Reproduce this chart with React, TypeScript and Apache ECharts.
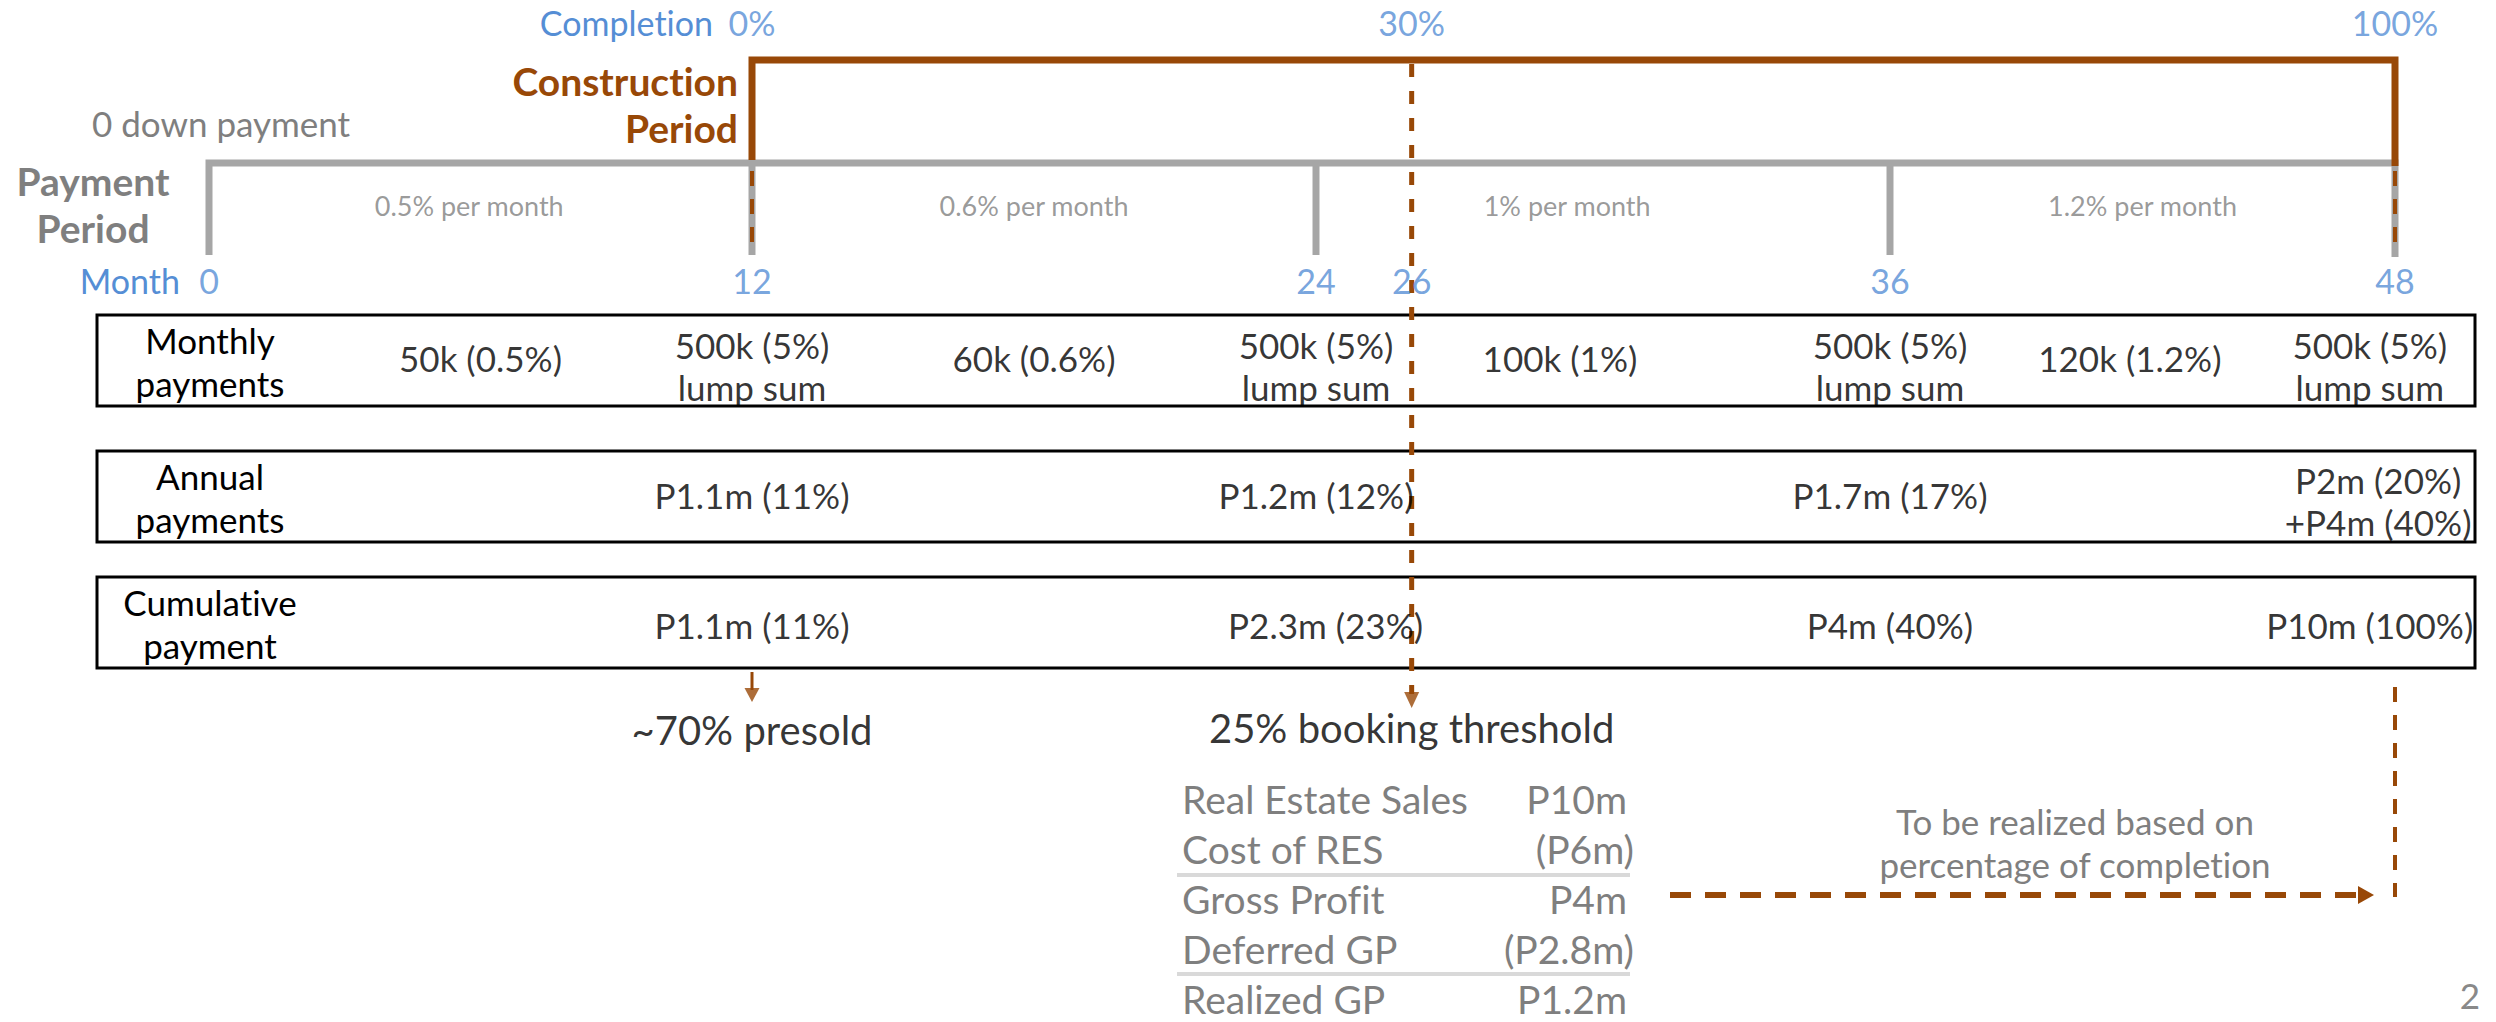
import { useEffect, useRef } from "react";
import * as echarts from "echarts";

// ---- timeline data (months) ----
const segmentBounds: [number, number][] = [
  [0, 12],
  [12, 24],
  [24, 36],
  [36, 48],
];
const paymentTicks = [0, 12, 24, 36, 48];
const monthTicks = [0, 12, 24, 26, 36, 48];
const completionMonths = [12, 26, 48];
const completionLabels = ["0%", "30%", "100%"];
const constructionStart = 12;
const constructionEnd = 48;
const bookingMonth = 26;
const presoldMonth = 12;

const rateLabels = ["0.5% per month", "0.6% per month", "1% per month", "1.2% per month"];
const rateLabelMonths = [5.75, 18, 29.25, 42];

const monthlyLabels = [
  "50k (0.5%)",
  "500k (5%)\nlump sum",
  "60k (0.6%)",
  "500k (5%)\nlump sum",
  "100k (1%)",
  "500k (5%)\nlump sum",
  "120k (1.2%)",
  "500k (5%)\nlump sum",
];
const monthlyMonths = [6, 12, 18, 24, 29.1, 36, 41.7, 47.4];

const annualLabels = ["P1.1m (11%)", "P1.2m (12%)", "P1.7m (17%)", "P2m (20%)\n+P4m (40%)"];
const annualMonths = [12, 24, 36, 47.6];

const cumulativeLabels = ["P1.1m (11%)", "P2.3m (23%)", "P4m (40%)", "P10m (100%)"];
const cumulativeMonths = [12, 24.2, 36, 47.4];

const rowTitles = ["Monthly\npayments", "Annual\npayments", "Cumulative\npayment"];

const incomeItems = ["Real Estate Sales", "Cost of RES", "Gross Profit", "Deferred GP", "Realized GP"];
const incomeValues = ["P10m", "(P6m)", "P4m", "(P2.8m)", "P1.2m"];

// ---- layout & style ----
const W = 2496;
const H = 1022;
const segPx = [209, 752, 1316, 1890, 2395];

const ORANGE = "#984807";
const BLUE = "#558ED5";
const GREY_LINE = "#A6A6A6";
const GREY_TEXT = "#7F7F7F";
const LIGHT_RULE = "#D9D9D9";
const FONT = "Lato, 'Open Sans', sans-serif";

const Y = {
  completion: 22,
  bracketTop: 60,
  timeline: 163,
  tickEnd: 255,
  rate: 205,
  month: 280,
  boxTop: [315, 451, 577],
  boxH: 91,
  rowText: [358, 495, 625],
  rowTwoLineShift: [8, 6, 0],
  presold: 730,
  booking: 728,
};
const BOX_LEFT = 97;
const BOX_RIGHT = 2475;
const ROW_LINE_H = 42;

const gridOf = (m: number) => (m >= 36 ? 3 : m >= 24 ? 2 : m >= 12 ? 1 : 0);

// break a multi-line label into single lines stacked around a centre
function stackLines(text: string, cy: number, lineHeight: number) {
  const parts = text.split("\n");
  const top = cy - ((parts.length - 1) * lineHeight) / 2;
  return parts.map((t, i) => ({ text: t, y: top + i * lineHeight }));
}

function lineSeries(points: number[][], style: any, grid?: number, z = 3) {
  const g = grid ?? gridOf(points[0][0]);
  return {
    type: "line",
    xAxisIndex: g,
    yAxisIndex: g,
    data: points,
    symbol: "none",
    clip: false,
    silent: true,
    z,
    lineStyle: { cap: "butt", join: "miter", ...style },
    emphasis: { disabled: true },
  };
}

// horizontal run split across the four month segments, with optional end legs
function bracketSeries(a: number, b: number, y: number, startLeg: number | null, endLeg: number | null, style: any, z: number) {
  const out: any[] = [];
  segmentBounds.forEach(([s, e], i) => {
    const lo = Math.max(a, s);
    const hi = Math.min(b, e);
    if (hi <= lo) return;
    const pts: number[][] = [
      [lo, y],
      [hi, y],
    ];
    if (lo === a && startLeg !== null) pts.unshift([a, startLeg]);
    if (hi === b && endLeg !== null) pts.push([b, endLeg]);
    out.push(lineSeries(pts, style, i, z));
  });
  return out;
}

function textSeries(month: number, y: number, text: string, style: any) {
  const g = gridOf(month);
  return {
    type: "scatter",
    xAxisIndex: g,
    yAxisIndex: g,
    silent: true,
    clip: false,
    z: 6,
    symbol: "circle",
    symbolSize: 1,
    itemStyle: { color: "rgba(0,0,0,0)" },
    data: [{ value: [month, y], name: text }],
    label: {
      show: true,
      position: "inside",
      formatter: "{b}",
      align: "center",
      verticalAlign: "middle",
      fontFamily: FONT,
      ...style,
    },
    emphasis: { disabled: true },
  };
}

function arrowHead(month: number, y: number, w: number, h: number) {
  const g = gridOf(month);
  return {
    type: "scatter",
    xAxisIndex: g,
    yAxisIndex: g,
    silent: true,
    clip: false,
    z: 5,
    symbol: "triangle",
    symbolRotate: 180,
    symbolSize: [w, h],
    itemStyle: { color: ORANGE },
    data: [[month, y]],
    emphasis: { disabled: true },
  };
}

function gText(x: number, y: number, text: string, style: any) {
  const align = style.align || "left";
  return {
    type: "text",
    x,
    y,
    silent: true,
    z: 10,
    style: {
      text,
      fontFamily: FONT,
      align,
      textAlign: align,
      verticalAlign: "middle",
      textVerticalAlign: "middle",
      ...style,
    },
  };
}

function gTextLines(x: number, cy: number, text: string, lineHeight: number, style: any) {
  return stackLines(text, cy, lineHeight).map((l) => gText(x, l.y, l.text, style));
}

function buildOption() {
  const grid = segmentBounds.map((_, i) => ({
    left: segPx[i],
    width: segPx[i + 1] - segPx[i],
    top: 0,
    height: H,
    containLabel: false,
  }));
  const xAxis = segmentBounds.map(([s, e], i) => ({ type: "value", gridIndex: i, min: s, max: e, show: false }));
  const yAxis = segmentBounds.map((_, i) => ({ type: "value", gridIndex: i, min: 0, max: H, inverse: true, show: false }));

  const series: any[] = [];

  // payment period timeline (grey) and its yearly ticks
  const greyStyle = { color: GREY_LINE, width: 7 };
  series.push(...bracketSeries(0, 48, Y.timeline, Y.tickEnd, Y.tickEnd + 2, greyStyle, 3));
  paymentTicks
    .filter((m) => m !== 0 && m !== 48)
    .forEach((m) => series.push(lineSeries([[m, Y.timeline], [m, Y.tickEnd]], greyStyle, gridOf(m), 3)));

  // construction period bracket (orange)
  series.push(
    ...bracketSeries(constructionStart, constructionEnd, Y.bracketTop, Y.timeline - 3, Y.timeline + 3, { color: ORANGE, width: 7 }, 4)
  );

  // dashed orange markers on the start / end ticks
  [constructionStart, constructionEnd].forEach((m) =>
    series.push(
      lineSeries([[m, Y.timeline], [m, 253]], { color: ORANGE, width: 4, type: [15, 13], dashOffset: 20 }, gridOf(m), 5)
    )
  );

  // 25% booking threshold marker
  series.push(lineSeries([[bookingMonth, 64], [bookingMonth, 694]], { color: ORANGE, width: 5, type: [13, 14] }, gridOf(bookingMonth), 5));
  series.push(arrowHead(bookingMonth, 700, 15, 16));

  // presold marker
  series.push(lineSeries([[presoldMonth, 672], [presoldMonth, 690]], { color: ORANGE, width: 3 }, gridOf(presoldMonth), 5));
  series.push(arrowHead(presoldMonth, 695, 15, 14));

  // realization marker at completion
  series.push(lineSeries([[constructionEnd, 687], [constructionEnd, 897]], { color: ORANGE, width: 4, type: [15, 13] }, gridOf(constructionEnd), 5));

  // completion percentages
  completionMonths.forEach((m, i) =>
    series.push(textSeries(m, Y.completion, completionLabels[i], { color: BLUE, fontSize: 34 }))
  );
  // month numbers
  monthTicks.forEach((m) => series.push(textSeries(m, Y.month, String(m), { color: BLUE, fontSize: 34 })));
  // rate per month
  rateLabels.forEach((t, i) => series.push(textSeries(rateLabelMonths[i], Y.rate, t, { color: GREY_TEXT, fontSize: 27 })));

  // payment rows
  const rows = [
    [monthlyLabels, monthlyMonths],
    [annualLabels, annualMonths],
    [cumulativeLabels, cumulativeMonths],
  ] as [string[], number[]][];
  rows.forEach(([labels, months], r) => {
    labels.forEach((t, i) => {
      const cy = Y.rowText[r] + (t.includes("\n") ? Y.rowTwoLineShift[r] : 0);
      stackLines(t, cy, ROW_LINE_H).forEach((l) =>
        series.push(textSeries(months[i], l.y, l.text, { color: "#000", fontSize: 35 }))
      );
    });
  });

  series.push(textSeries(presoldMonth, Y.presold, "~70% presold", { color: "#000", fontSize: 40 }));
  series.push(textSeries(bookingMonth, Y.booking, "25% booking threshold", { color: "#000", fontSize: 40 }));

  // ---- free-standing annotations ----
  const graphic: any[] = [];

  graphic.push(gText(713, Y.completion, "Completion", { fill: BLUE, fontSize: 34, align: "right" }));
  graphic.push(gText(180, Y.month, "Month", { fill: BLUE, fontSize: 34, align: "right" }));
  graphic.push(gText(92, 123, "0 down payment", { fill: GREY_TEXT, fontSize: 35 }));
  graphic.push(
    ...gTextLines(93, 204, "Payment\nPeriod", 47, { fill: GREY_TEXT, fontSize: 39, fontWeight: "bold", align: "center" })
  );
  graphic.push(
    ...gTextLines(738, 104, "Construction\nPeriod", 47, { fill: ORANGE, fontSize: 39, fontWeight: "bold", align: "right" })
  );

  // payment boxes
  Y.boxTop.forEach((top, r) => {
    graphic.push({
      type: "rect",
      silent: true,
      z: 1,
      shape: { x: BOX_LEFT, y: top, width: BOX_RIGHT - BOX_LEFT, height: Y.boxH },
      style: { fill: "none", stroke: "#000", lineWidth: 3 },
    });
    graphic.push(
      ...gTextLines(210, top + Y.boxH / 2 + 1, rowTitles[r], 43, { fill: "#000", fontSize: 35, align: "center" })
    );
  });

  // income statement
  const tableY0 = 799;
  const tableStep = 50;
  incomeItems.forEach((t, i) => {
    const y = tableY0 + i * tableStep;
    graphic.push(gText(1182, y, t, { fill: GREY_TEXT, fontSize: 39 }));
    const v = incomeValues[i];
    graphic.push(gText(v.startsWith("(") ? 1634 : 1627, y, v, { fill: GREY_TEXT, fontSize: 39, align: "right" }));
  });
  [875, 974].forEach((y) =>
    graphic.push({
      type: "line",
      silent: true,
      z: 2,
      shape: { x1: 1177, y1: y, x2: 1630, y2: y },
      style: { stroke: LIGHT_RULE, lineWidth: 4 },
    })
  );

  // deferred profit arrow
  graphic.push({
    type: "line",
    silent: true,
    z: 3,
    shape: { x1: 1670, y1: 895, x2: 2360, y2: 895 },
    style: { stroke: ORANGE, lineWidth: 6, lineDash: [21, 14] },
  });
  graphic.push({
    type: "polygon",
    silent: true,
    z: 3,
    shape: { points: [[2358, 886], [2374, 895], [2358, 904]] },
    style: { fill: ORANGE },
  });
  graphic.push(
    ...gTextLines(2075, 842, "To be realized based on\npercentage of completion", 43, {
      fill: GREY_TEXT,
      fontSize: 35,
      align: "center",
    })
  );

  graphic.push(gText(2470, 995, "2", { fill: "#898989", fontSize: 35, align: "center" }));

  return {
    animation: false,
    backgroundColor: "#ffffff",
    grid,
    xAxis,
    yAxis,
    series,
    graphic: { elements: graphic },
  };
}

export default function App() {
  const ref = useRef<HTMLDivElement>(null);
  useEffect(() => {
    const chart = echarts.init(ref.current!, null, { renderer: "svg" });
    chart.setOption(buildOption() as any);
    return () => chart.dispose();
  }, []);
  return (
    <div
      ref={ref}
      style={{
        position: "fixed",
        left: 0,
        top: 0,
        width: W,
        height: H,
        background: "#ffffff",
        fontVariantLigatures: "none",
        fontFeatureSettings: '"liga" 0, "clig" 0',
      }}
    />
  );
}
